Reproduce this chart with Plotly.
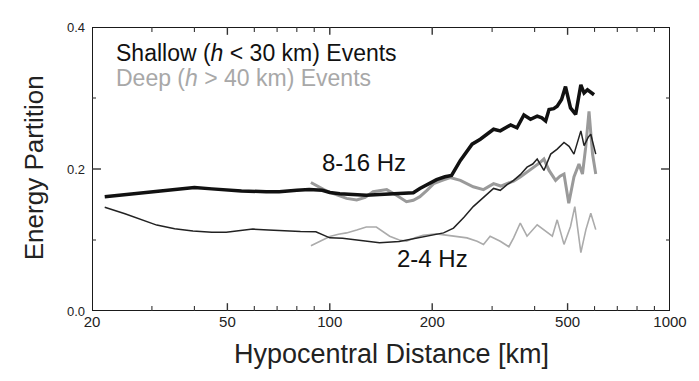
import math
import plotly.graph_objects as go

# ---------------- data ----------------
shallow_hf_dist = [21.8, 25, 30, 35, 40, 45, 55, 65, 71, 80, 87, 95, 100, 107, 120, 128, 140, 160, 176,
                   184, 195, 206, 218, 228, 242, 262, 277, 290, 303, 317, 330, 340, 355, 372, 389, 407,
                   420, 431, 441, 455, 466, 480, 493, 510, 528, 547, 559, 572, 598]
shallow_hf_val = [0.161, 0.164, 0.168, 0.171, 0.174, 0.172, 0.169, 0.168, 0.168, 0.170, 0.171, 0.170,
                  0.167, 0.165, 0.164, 0.163, 0.164, 0.165, 0.1665, 0.1726, 0.179, 0.185, 0.189, 0.191,
                  0.212, 0.235, 0.242, 0.249, 0.256, 0.2537, 0.259, 0.262, 0.258, 0.276, 0.270, 0.2745,
                  0.272, 0.2676, 0.2837, 0.285, 0.2884, 0.298, 0.316, 0.286, 0.277, 0.3186, 0.307,
                  0.3116, 0.3046]

shallow_lf_dist = [21.8, 25, 31, 35, 39.6, 45, 49.6, 55, 59.4, 66, 74, 82, 91, 100, 109, 120, 140, 160,
                   176, 195, 216, 231, 248, 264, 283, 303, 317, 332, 347, 363, 380, 395, 407, 426, 446,
                   466, 488, 505, 522, 547, 559, 575, 585, 605]
shallow_lf_val = [0.146, 0.137, 0.121, 0.116, 0.1127, 0.111, 0.1108, 0.113, 0.1154, 0.114, 0.1127,
                  0.112, 0.1117, 0.103, 0.1025, 0.100, 0.096, 0.098, 0.1017, 0.105, 0.110, 0.1168,
                  0.132, 0.147, 0.160, 0.1726, 0.170, 0.178, 0.184, 0.192, 0.2026, 0.207, 0.214, 0.198,
                  0.221, 0.228, 0.2374, 0.232, 0.221, 0.2537, 0.2328, 0.245, 0.249, 0.221]

deep_hf_dist = [88, 92, 97, 103, 112, 120, 127, 134, 147, 157, 168, 176, 184, 193, 202, 214, 226, 242,
                253, 264, 283, 303, 318, 332, 347, 363, 380, 398, 412, 426, 441, 461, 475, 488, 504,
                522, 540, 553, 565, 578, 592, 605]
deep_hf_val = [0.181, 0.176, 0.170, 0.165, 0.1586, 0.1563, 0.160, 0.168, 0.171, 0.163, 0.154, 0.156,
               0.161, 0.170, 0.1794, 0.184, 0.188, 0.184, 0.179, 0.175, 0.171, 0.1794, 0.176, 0.179,
               0.183, 0.1887, 0.195, 0.2026, 0.208, 0.214, 0.198, 0.184, 0.190, 0.193, 0.1517, 0.1887,
               0.207, 0.193, 0.230, 0.281, 0.221, 0.193]

deep_lf_dist = [88, 91, 95, 100, 106, 112, 120, 128, 137, 150, 160, 168, 178, 188, 206, 220, 231, 253,
                271, 283, 296, 317, 336, 347, 363, 380, 407, 431, 451, 466, 488, 510, 525, 547, 566,
                585, 605]
deep_lf_val = [0.092, 0.0956, 0.100, 0.105, 0.108, 0.110, 0.114, 0.1183, 0.1183, 0.1054, 0.100, 0.0983,
               0.103, 0.1068, 0.1086, 0.107, 0.1062, 0.103, 0.0983, 0.0938, 0.1054, 0.0983, 0.0905,
               0.103, 0.1239, 0.1054, 0.1215, 0.1123, 0.1054, 0.1284, 0.0938, 0.119, 0.147, 0.0822,
               0.1146, 0.1378, 0.1146]

x_range = [20, 1000]
y_range = [0.0, 0.4]
x_tick_vals = [20, 50, 100, 200, 500, 1000]
x_tick_text = ["20", "50", "100", "200", "500", "1000"]
x_minor_vals = [30, 40, 60, 70, 80, 90, 300, 400, 600, 700, 800, 900]
y_tick_vals = [0.0, 0.2, 0.4]
y_tick_text = ["0.0", "0.2", "0.4"]
y_minor_vals = [0.1, 0.3]

FONT = "Liberation Sans, Arial, Helvetica, sans-serif"
DARK = "#111111"
GRAY_THICK = "#9a9a9a"
GRAY_THIN = "#ababab"
FRAME = "#1a1a1a"

# page body has an 8px default margin: plot area in page px 92..672 x 21..311
OFF = 8
PL, PR, PT, PB = 92 - OFF, 672 - OFF, 21 - OFF, 311 - OFF
W, H = 699 - OFF, 381 - OFF
PLOT_W, PLOT_H = PR - PL, PB - PT

fig = go.Figure()
fig.add_trace(go.Scatter(x=deep_lf_dist, y=deep_lf_val, mode="lines",
                         line=dict(color=GRAY_THIN, width=1.6), showlegend=False))
fig.add_trace(go.Scatter(x=deep_hf_dist, y=deep_hf_val, mode="lines",
                         line=dict(color=GRAY_THICK, width=3), showlegend=False))
fig.add_trace(go.Scatter(x=shallow_lf_dist, y=shallow_lf_val, mode="lines",
                         line=dict(color="#222222", width=1.5), showlegend=False))
fig.add_trace(go.Scatter(x=shallow_hf_dist, y=shallow_hf_val, mode="lines",
                         line=dict(color=DARK, width=3.5), showlegend=False))

fig.update_xaxes(
    type="log", range=[math.log10(x_range[0]), math.log10(x_range[1])],
    tickmode="array", tickvals=x_tick_vals, ticktext=x_tick_text,
    ticks="inside", ticklen=7, tickcolor="rgba(0,0,0,0)",
    showline=False, showgrid=False, zeroline=False,
    tickfont=dict(family=FONT, size=15, color="#222"),
)
fig.update_yaxes(
    range=y_range,
    tickmode="array", tickvals=y_tick_vals, ticktext=y_tick_text,
    ticks="inside", ticklen=7, tickcolor="rgba(0,0,0,0)",
    showline=False, showgrid=False, zeroline=False, ticklabelstandoff=6,
    tickfont=dict(family=FONT, size=13, color="#222"),
)

# frame and tick marks drawn in axis (data) coordinates
decades = math.log10(x_range[1]) - math.log10(x_range[0])
yspan = y_range[1] - y_range[0]


def ylen(pix):
    return yspan * pix / PLOT_H


def xfac(pix):
    return 10 ** (decades * pix / PLOT_W)


shapes = [dict(type="rect", xref="x", yref="y", x0=x_range[0], x1=x_range[1], y0=y_range[0],
               y1=y_range[1], line=dict(color=FRAME, width=2), layer="above")]
for vals, L, wdt in [(x_tick_vals[1:-1], 8, 1.4), (x_minor_vals, 5, 1.1)]:
    for v in vals:
        shapes.append(dict(type="line", xref="x", yref="y", x0=v, x1=v, y0=y_range[0],
                           y1=y_range[0] + ylen(L), line=dict(color="#333", width=wdt), layer="above"))
        shapes.append(dict(type="line", xref="x", yref="y", x0=v, x1=v, y0=y_range[1],
                           y1=y_range[1] - ylen(L), line=dict(color="#333", width=wdt), layer="above"))
for vals, L, wdt in [(y_tick_vals[1:-1], 9, 1.4), (y_minor_vals, 4, 1.1)]:
    for v in vals:
        shapes.append(dict(type="line", xref="x", yref="y", x0=x_range[0], x1=x_range[0] * xfac(L),
                           y0=v, y1=v, line=dict(color="#333", width=wdt), layer="above"))
        shapes.append(dict(type="line", xref="x", yref="y", x0=x_range[1], x1=x_range[1] / xfac(L),
                           y0=v, y1=v, line=dict(color="#333", width=wdt), layer="above"))


def px(xp):
    return (xp - 92) / 580


def py(yp):
    return 1 - (yp - 21) / 290


def anno(xp, yp, text, size, color, xanchor="center", angle=0):
    return dict(xref="paper", yref="paper", x=px(xp), y=py(yp), xanchor=xanchor, yanchor="middle",
                showarrow=False, text=text, textangle=angle,
                font=dict(family=FONT, size=size, color=color))


layout_annos = [
    anno(114, 48, "Shallow (<i>h</i> < 30 km) Events", 23, "#111", xanchor="left"),
    anno(114, 73, "Deep (<i>h</i> > 40 km) Events", 23, "#a8a8a8", xanchor="left"),
    anno(365, 159, "8-16 Hz", 24, "#111"),
    anno(434, 257, "2-4 Hz", 24, "#111"),
    anno(393, 355, "Hypocentral Distance [km]", 27, "#222"),
    anno(34, 165, "Energy Partition", 26, "#222", angle=-90),
]

fig.update_layout(
    width=W, height=H,
    margin=dict(l=PL, r=W - PR, t=PT, b=H - PB),
    paper_bgcolor="white", plot_bgcolor="white",
    annotations=layout_annos,
    shapes=shapes,
    showlegend=False,
)

fig.write_html("out.html")
